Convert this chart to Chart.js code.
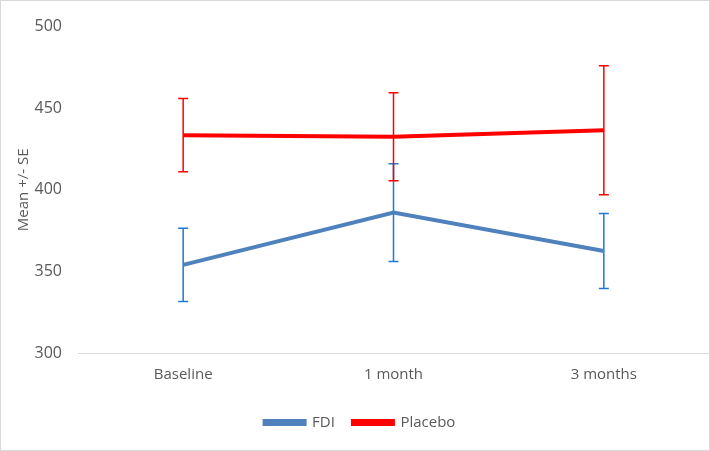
<!DOCTYPE html>
<html>
<head>
<meta charset="utf-8">
<script src="https://cdn.jsdelivr.net/npm/chart.js@4"></script>
<style>
  body { margin: 0; background: #fff; }
  #wrap { width: 708px; height: 449px; border: 1px solid #d9d9d9; }
</style>
</head>
<body>
<div id="wrap"><canvas id="meanChart" width="708" height="449"></canvas></div>
<script>
const categories = ["Baseline", "1 month", "3 months"];
const fdiMean = [354, 386, 362.5];
const fdiSE = [22.5, 30, 23];
const placeboMean = [433.5, 432.5, 436.5];
const placeboSE = [22.5, 27, 39.5];

const errorBars = {
  id: "errorBars",
  beforeDatasetsDraw(chart) {
    const ctx = chart.ctx;
    const yScale = chart.scales.y;
    chart.data.datasets.forEach((ds, i) => {
      const meta = chart.getDatasetMeta(i);
      ctx.save();
      ctx.strokeStyle = ds.errorColor;
      ctx.lineWidth = 1.5;
      meta.data.forEach((pt, j) => {
        const top = yScale.getPixelForValue(ds.data[j] + ds.se[j]);
        const bottom = yScale.getPixelForValue(ds.data[j] - ds.se[j]);
        ctx.beginPath();
        ctx.moveTo(pt.x, top);
        ctx.lineTo(pt.x, bottom);
        ctx.moveTo(pt.x - 5, top);
        ctx.lineTo(pt.x + 5, top);
        ctx.moveTo(pt.x - 5, bottom);
        ctx.lineTo(pt.x + 5, bottom);
        ctx.stroke();
      });
      ctx.restore();
    });
  },
};

Chart.defaults.font.family = "'Open Sans', sans-serif";
Chart.defaults.color = "#595959";

let ctx = document.getElementById("meanChart").getContext("2d");
let meanChart = new Chart(ctx, {
  type: "line",
  data: {
    labels: categories,
    datasets: [
      {
        label: "FDI",
        data: fdiMean,
        se: fdiSE,
        errorColor: "#1f78d1",
        borderColor: "#4f81bd",
        backgroundColor: "#4f81bd",
        borderWidth: 4,
        pointRadius: 0,
        tension: 0,
      },
      {
        label: "Placebo",
        data: placeboMean,
        se: placeboSE,
        errorColor: "#ff0000",
        borderColor: "#ff0000",
        backgroundColor: "#ff0000",
        borderWidth: 4,
        pointRadius: 0,
        tension: 0,
      },
    ],
  },
  options: {
    responsive: false,
    animation: false,
    layout: { padding: { top: 7, right: 0, left: 10, bottom: 10 } },
    plugins: {
      tooltip: { enabled: false },
      legend: {
        position: "bottom",
        labels: {
          boxWidth: 40,
          boxHeight: 3,
          padding: 18,
          font: { size: 15 },
          color: "#595959",
        },
      },
    },
    scales: {
      x: {
        offset: true,
        grid: { display: false, drawTicks: false },
        border: { color: "#d9d9d9", width: 1 },
        ticks: { font: { size: 15 }, padding: 13 },
      },
      y: {
        min: 300,
        max: 500,
        grid: { display: false, drawTicks: false },
        border: { display: false },
        ticks: { stepSize: 50, font: { size: 16 }, padding: 16 },
        title: { display: true, text: "Mean +/- SE", font: { size: 15 }, padding: { bottom: 4 } },
        afterFit: (s) => { s.width = 67; },
      },
    },
  },
  plugins: [errorBars],
});
</script>
</body>
</html>
